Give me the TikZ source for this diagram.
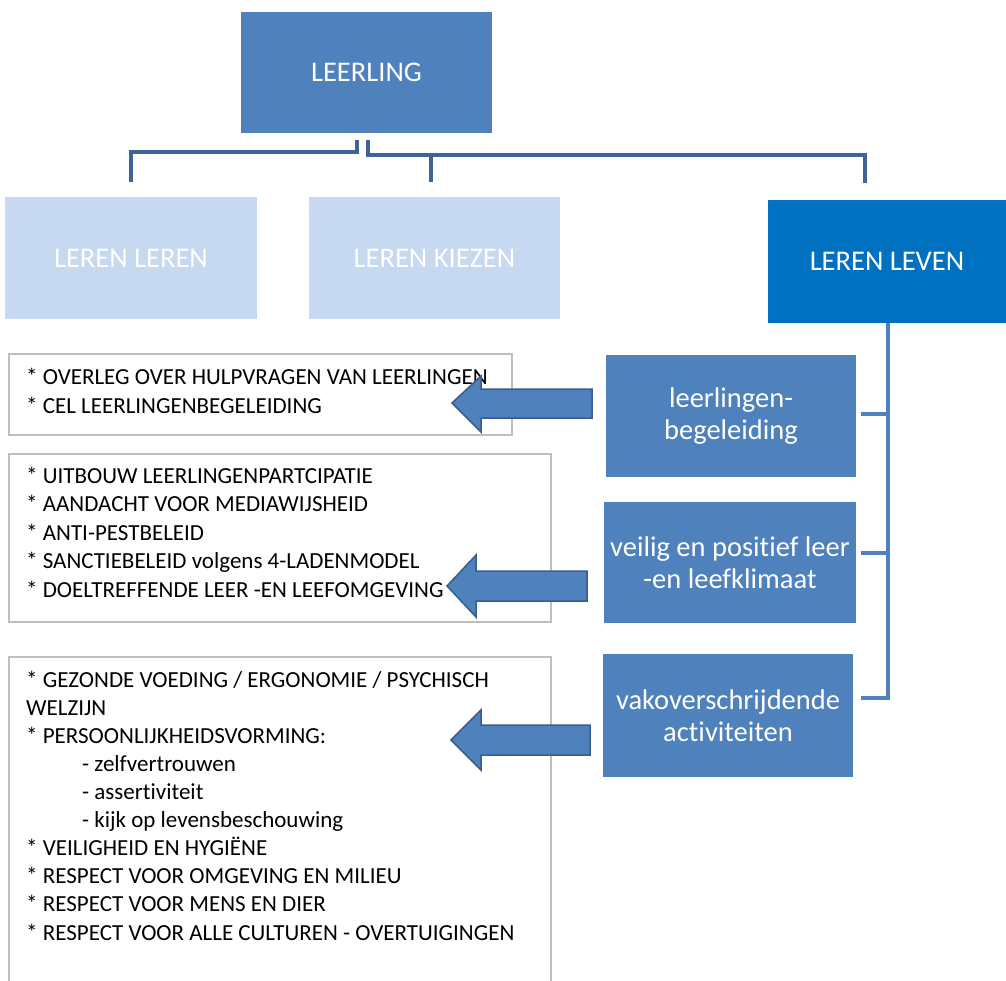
\documentclass[tikz,border=0pt]{standalone}
\usepackage{fontspec}
\setmainfont{Carlito}[Ligatures=NoCommon]
\begin{document}
\begin{tikzpicture}[x=1pt,y=-1pt]
\definecolor{midblue}{RGB}{79,129,189}
\definecolor{lightblue}{RGB}{198,217,240}
\definecolor{darkblue}{RGB}{0,112,192}
\definecolor{connblue}{RGB}{62,100,150}
\definecolor{arrowedge}{RGB}{56,93,138}
\definecolor{boxgray}{RGB}{190,190,190}
\tikzset{
  hbox/.style={rectangle, inner sep=0pt, text=white, align=center, font=\fontsize{28.5}{32}\selectfont},
  sbox/.style={rectangle, inner sep=0pt, text=white, align=center, font=\fontsize{28.5}{32}\selectfont, fill=midblue},
  tbox/.style={rectangle, draw=boxgray, line width=1.2pt, inner sep=0pt},
  ttext/.style={anchor=base west, inner sep=0pt, align=left},
  conn/.style={draw=connblue, line width=4pt},
  conn2/.style={draw=midblue, line width=4.5pt},
  blockarrow/.style={fill=midblue, draw=arrowedge, line width=1.5pt, line join=miter}
}
\useasboundingbox (0,0) rectangle (1006,981);
% top boxes
\node[hbox, fill=midblue, minimum width=251pt, minimum height=121pt] (top) at (366.5,72.5) {LEERLING};
\node[hbox, fill=lightblue, minimum width=252pt, minimum height=122pt] (lleren) at (131,258) {LEREN LEREN};
\node[hbox, fill=lightblue, minimum width=251pt, minimum height=122pt] (kiezen) at (434.5,258) {LEREN KIEZEN};
\node[hbox, fill=darkblue, minimum width=238pt, minimum height=123pt] (leven) at (887,261.5) {LEREN LEVEN};
% top connectors
\coordinate (cL) at (131,182);
\coordinate (cK) at (431,182);
\coordinate (cR) at (865,183);
\draw[conn] (357,140) |- (cL |- 0,152) -- (cL);
\draw[conn] (368,140) |- (cR |- 0,155) -- (cR);
\draw[conn] (cK |- 0,155) -- (cK);
% sub boxes
\node[sbox, minimum width=250pt, minimum height=122pt] (b1) at (731,416) {leerlingen-\\begeleiding};
\node[sbox, minimum width=252pt, minimum height=121pt] (b2) at (730,562.5) {veilig en positief leer\\-en leefklimaat};
\node[sbox, minimum width=250pt, minimum height=123pt] (b3) at (728,715.5) {vakoverschrijdende\\activiteiten};
% right connector
\draw[conn2] (leven.south -| 888,0) |- (861,698);
\draw[conn2] (861,414) -- (888,414);
\draw[conn2] (861,553) -- (888,553);
% text boxes
\node[tbox, minimum width=503pt, minimum height=81pt] (t1) at (260.5,394.5) {};
\node[tbox, minimum width=542pt, minimum height=168pt] (t2) at (280,538) {};
\node[tbox, minimum width=542pt, minimum height=340pt] (t3) at (280,827) {};
\node[ttext, font=\fontsize{23}{29}\selectfont] (tx1) at (26,413) {* OVERLEG OVER HULPVRAGEN VAN LEERLINGEN\\* CEL LEERLINGENBEGELEIDING};
\node[ttext, font=\fontsize{23}{28.5}\selectfont] (tx2) at (26,597) {* UITBOUW LEERLINGENPARTCIPATIE\\* AANDACHT VOOR MEDIAWIJSHEID\\* ANTI-PESTBELEID\\* SANCTIEBELEID volgens 4-LADENMODEL\\* DOELTREFFENDE LEER -EN LEEFOMGEVING};
\node[ttext, font=\fontsize{23}{28.1}\selectfont] (tx3) at (26,940) {* GEZONDE VOEDING / ERGONOMIE / PSYCHISCH\\WELZIJN\\* PERSOONLIJKHEIDSVORMING:\\\hspace*{56pt}- zelfvertrouwen\\\hspace*{56pt}- assertiviteit\\\hspace*{56pt}- kijk op levensbeschouwing\\* VEILIGHEID EN HYGIËNE\\* RESPECT VOOR OMGEVING EN MILIEU\\* RESPECT VOOR MENS EN DIER\\* RESPECT VOOR ALLE CULTUREN - OVERTUIGINGEN};
% block arrows
\draw[blockarrow] (592,389) -- (481,389) -- (481,376) -- (452,403) -- (481,432) -- (481,418) -- (592,418) -- cycle;
\draw[blockarrow] (587,571) -- (476,571) -- (476,555) -- (447,586) -- (476,617) -- (476,601) -- (587,601) -- cycle;
\draw[blockarrow] (590,725) -- (481,725) -- (481,710) -- (451,740) -- (481,770) -- (481,755) -- (590,755) -- cycle;
\end{tikzpicture}
\end{document}
